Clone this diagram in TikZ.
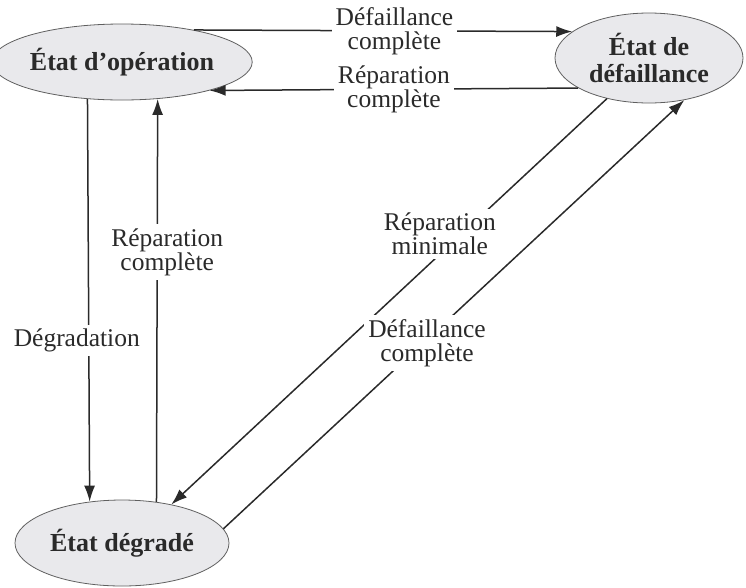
\documentclass[tikz,border=0pt]{standalone}
\usepackage{fontspec}
\setmainfont{Liberation Serif}
\usetikzlibrary{shapes.geometric,arrows.meta}
\definecolor{statefill}{HTML}{E9E9EC}
\definecolor{ink}{HTML}{2A2A2A}
\tikzset{
  state/.style={ellipse, draw=ink!75, line width=0.8pt, fill=statefill,
    inner sep=0pt, align=center, font=\fontsize{26}{27}\selectfont\bfseries, text=ink},
  trans/.style={draw=ink, line width=1.5pt, -{Latex[length=16pt,width=11pt]}},
  lab/.style={fill=white, inner sep=4pt, align=center,
    font=\fontsize{25.5}{24}\selectfont, text=ink},
}
\begin{document}
\begin{tikzpicture}[x=1pt,y=-1pt]
\useasboundingbox (0,0) rectangle (746,587);

% the three states
\node[state, minimum width=214pt, minimum height=76pt] (op)  at (122,62)  {État d’opération};
\node[state, minimum width=188pt, minimum height=90pt] (def) at (649,58)  {État de\\défaillance};
\node[state, minimum width=214pt, minimum height=86pt] (deg) at (122,543) {État dégradé};

% transitions between operation and failure
\draw[trans] (op.24.4)  -- node[lab, pos=0.53] {Défaillance\\complète} (def.161.3);
\draw[trans] (def.203.2) -- node[lab, pos=0.50] {Réparation\\complète} (op.-18.4);

% transitions between operation and degraded state
\draw[trans] (op.227.5) -- node[lab, pos=0.60, xshift=-12pt] {Dégradation} (deg.128.9);
\draw[trans] (deg.50.2) -- node[lab, pos=0.62, xshift=10pt] {Réparation\\complète} (op.-46.6);

% transitions between failure and degraded state
\draw[trans] (def.224.6) -- node[lab, pos=0.333, xshift=-22pt] {Réparation\\minimale} (deg.38.7);
\draw[trans] (deg.8.0) -- node[lab, pos=0.433, xshift=4pt] {Défaillance\\complète} (def.310.9);
\end{tikzpicture}
\end{document}
